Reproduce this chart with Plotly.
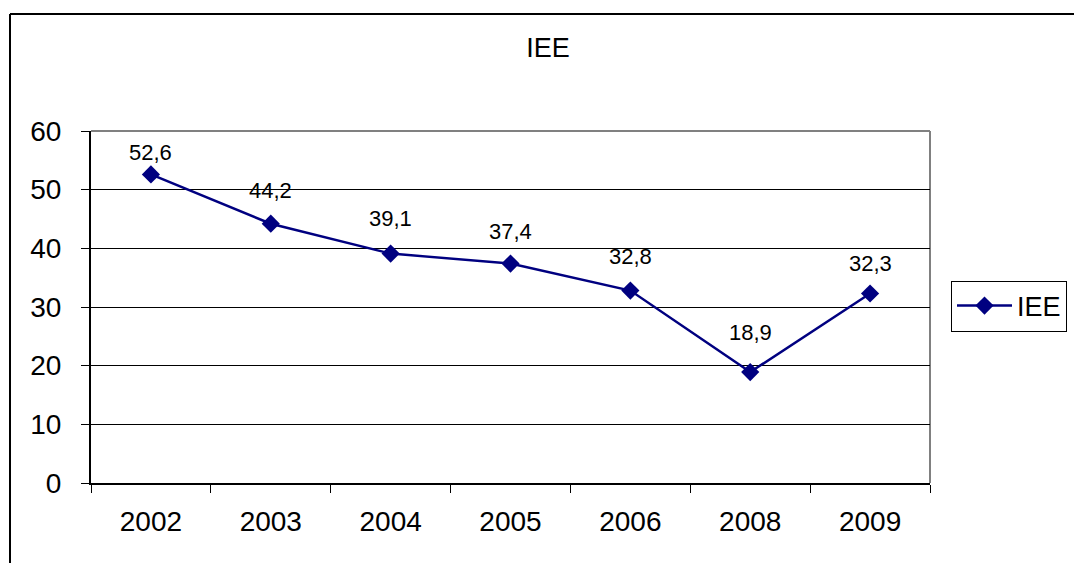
import plotly.graph_objects as go

years = ["2002", "2003", "2004", "2005", "2006", "2008", "2009"]
iee = [52.6, 44.2, 39.1, 37.4, 32.8, 18.9, 32.3]
y_ticks = [0, 10, 20, 30, 40, 50, 60]

# label offsets (pixels above each point), as placed in the reference
label_shift = [22, 33, 35, 32, 34, 40, 30]

W, H = 1074, 563
L, R, T, B = 91, 144, 131, 80
pw, ph = W - L - R, H - T - B

def px(x):
    return (x - L) / pw

def py(y):
    return (H - B - y) / ph

FONT = "Liberation Sans, Arial"

fig = go.Figure()
fig.add_trace(go.Scatter(
    x=years, y=iee, name="IEE", mode="lines+markers",
    line=dict(color="#000080", width=2.5),
    marker=dict(symbol="diamond", size=14, color="#000080"),
    cliponaxis=False,
))

# category axes take the category's serial index for annotations
annotations = [
    dict(x=i, y=yv, xref="x", yref="y", text=f"{yv:.1f}".replace(".", ","),
         showarrow=False, yshift=s, xanchor="center", yanchor="middle",
         font=dict(size=22, color="black", family=FONT))
    for i, (yv, s) in enumerate(zip(iee, label_shift))
]

shapes = [
    dict(type="line", xref="paper", yref="paper", x0=px(10), x1=px(W + 5), y0=py(14), y1=py(14),
         line=dict(color="black", width=2)),
    dict(type="line", xref="paper", yref="paper", x0=px(10), x1=px(10), y0=py(14), y1=py(H + 5),
         line=dict(color="black", width=2)),
    dict(type="line", xref="paper", yref="paper", x0=0, x1=1, y0=1, y1=1,
         line=dict(color="#808080", width=2), layer="below"),
    dict(type="line", xref="paper", yref="paper", x0=1, x1=1, y0=0, y1=1,
         line=dict(color="#808080", width=2), layer="below"),
]

fig.update_layout(
    width=W, height=H,
    margin=dict(l=L, r=R, t=T, b=B, autoexpand=False),
    paper_bgcolor="white", plot_bgcolor="white",
    font=dict(family=FONT, color="black"),
    title=dict(text="IEE", x=548 / W, xanchor="center", y=1 - 48 / H, yanchor="middle",
               xref="container", yref="container", font=dict(size=27)),
    xaxis=dict(type="category", range=[-0.5, len(years) - 0.5], tickson="boundaries",
               ticks="outside", ticklen=8,
               tickcolor="black", showline=True, linecolor="black", linewidth=2,
               showgrid=False, tickfont=dict(size=28), ticklabelstandoff=12),
    yaxis=dict(range=[0, 60], tickvals=y_ticks, ticks="outside", ticklen=8,
               tickcolor="black", showline=True, linecolor="black", linewidth=2,
               showgrid=True, gridcolor="black", gridwidth=1, zeroline=False,
               tickfont=dict(size=28), ticklabelstandoff=14),
    legend=dict(x=px(951), xanchor="left", y=py(306), yanchor="middle",
                bordercolor="black", borderwidth=1, bgcolor="white",
                font=dict(size=27), itemwidth=55),
    showlegend=True,
    shapes=shapes,
    annotations=annotations,
)

fig.write_html("out.html", config={"displayModeBar": False},
               post_script="document.body.style.margin='0px';")
